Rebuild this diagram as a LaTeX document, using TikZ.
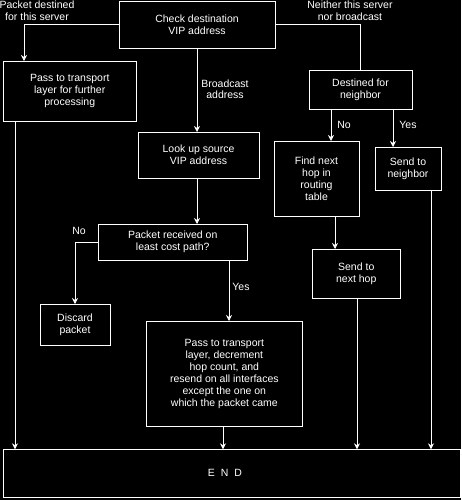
\documentclass[tikz,border=0pt]{standalone}
\usepackage{fontspec}
\setmainfont{Liberation Sans}
\usetikzlibrary{arrows.meta}

\begin{document}
\begin{tikzpicture}[x=1pt,y=-1pt,
  flow/.style={-{Stealth[length=6pt,width=6pt,inset=2pt]},white,line width=0.8pt},
  link/.style={white,line width=0.8pt},
  box/.style={draw=white,line width=0.8pt,text=white,align=center,inner sep=0pt,outer sep=0pt,font=\fontsize{10.5}{12}\selectfont},
  lbl/.style={text=white,align=center,inner sep=0pt,font=\fontsize{10.5}{11.5}\selectfont}
]
  \useasboundingbox (0,0) rectangle (461,500);
  \fill[black] (0,0) rectangle (461,500);

  % boxes
  \node[box,minimum width=156pt,minimum height=47pt] (check) at (197,24.5) {Check destination\\VIP address};
  \node[box,minimum width=133.5pt,minimum height=60pt] (pass1) at (69.75,91) {Pass to transport\\layer for further\\processing};
  \node[box,minimum width=121pt,minimum height=46pt] (lookup) at (198.5,155) {Look up source\\VIP address};
  \node[box,minimum width=103pt,minimum height=39pt] (dest) at (360.5,89.5) {Destined for\\neighbor};
  \node[box,minimum width=85pt,minimum height=75.5pt] (findhop) at (316.5,178.75) {Find next\\hop in\\routing\\table};
  \node[box,minimum width=66pt,minimum height=43.5pt] (sendnb) at (408,168.75) {Send to\\neighbor};
  \node[box,minimum width=88.5pt,minimum height=49pt] (sendhop) at (356.25,273.5) {Send to\\next hop};
  \node[box,minimum width=149.5pt,minimum height=36pt] (received) at (172.75,242) {Packet received on\\least cost path?};
  \node[box,minimum width=70pt,minimum height=41.5pt] (discard) at (75,324.75) {Discard\\packet};
  \node[box,minimum width=156.7pt,minimum height=105.7pt] (pass2) at (224.35,373.85)
    {Pass to transport\\layer, decrement\\hop count, and\\resend on all interfaces\\except the one on\\which the packet came};
  \node[box,minimum width=457pt,minimum height=48pt] (done) at (231.75,473.3) {};
  \node[lbl] (endtxt) at (225,473.3) {E\hspace{6pt}N\hspace{6pt}D};

  % labels
  \node[lbl] (lself) at (37,10.5) {Packet destined\\for this server};
  \node[lbl] (lnei) at (350,10.5) {Neither this server\\nor broadcast};
  \node[lbl] (lbc) at (225,89) {Broadcast\\address};
  \node[lbl] (lno1) at (344,125) {No};
  \node[lbl] (lyes1) at (408,125) {Yes};
  \node[lbl] (lno2) at (79,231) {No};
  \node[lbl] (lyes2) at (241,287) {Yes};

  % connectors
  \draw[flow] (check.west) -| (pass1.north -| 24,0);
  \draw[link] (check.east) -| (dest.north);
  \draw[flow] (check.south) -- (check.south |- lookup.north);
  \draw[flow] (dest.south -| 331,0) -- (findhop.north -| 331,0);
  \draw[flow] (dest.south -| 393,0) -- (sendnb.north -| 393,0);
  \draw[flow] (lookup.south -| 197,0) -- (received.north -| 197,0);
  \draw[flow] (received.west) -| (discard.north);
  \draw[flow] (received.south -| 229,0) -- (pass2.north -| 229,0);
  \draw[flow] (findhop.south -| 335,0) -- (sendhop.north -| 335,0);
  \draw[flow] (pass1.south -| 15,0) -- (done.north -| 15,0);
  \draw[flow] (pass2.south -| 223,0) -- (done.north -| 223,0);
  \draw[flow] (sendhop.south -| 357,0) -- (done.north -| 357,0);
  \draw[flow] (sendnb.south -| 431,0) -- (done.north -| 431,0);
\end{tikzpicture}
\end{document}
